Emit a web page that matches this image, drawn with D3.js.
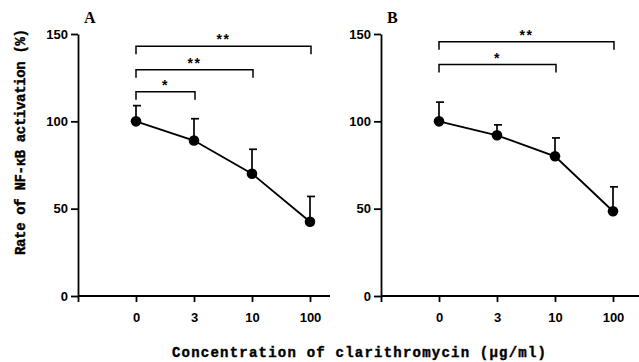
<!DOCTYPE html>
<html>
<head>
<meta charset="utf-8">
<script src="https://cdn.jsdelivr.net/npm/d3@7"></script>
<style>
  body { margin: 0; background: #fff; }
  svg { display: block; }
  .tick text { font-family: "Liberation Sans", Arial, sans-serif; font-weight: bold; font-size: 13px; fill: #000; }
  .tick line, .domain { stroke: #000; stroke-width: 1.8; }
</style>
</head>
<body>
<script>
var width = 639,
    height = 362;

// categories (concentration of clarithromycin, ug/ml)
var categories = ["", "0", "3", "10", "100"];
var yTicks = [0, 50, 100, 150];

// panel A: mean and upper error
var meanA = [100, 89, 70, 42.5];
var errTopA = [109, 101.5, 84, 57];
// panel B
var meanB = [100, 92, 80, 48.5];
var errTopB = [111, 98, 90.5, 62.5];

// significance brackets
var bracketsA = [
  {from: "0", to: "100", level: 143, label: "**"},
  {from: "0", to: "10", level: 129.5, label: "**"},
  {from: "0", to: "3", level: 117, label: "*"}
];
var bracketsB = [
  {from: "0", to: "100", level: 145.5, label: "**"},
  {from: "0", to: "10", level: 132.5, label: "*"}
];

var svg = d3.select("body").append("svg")
  .attr("width", width)
  .attr("height", height);

var y = d3.scaleLinear().domain([0, 150]).range([296, 34]);

function drawPanel(left, right, name, means, tops, brackets) {
  var x = d3.scalePoint()
    .domain(categories)
    .range([left, left + 58 * 4]);

  var g = svg.append("g");

  // baseline beyond last category
  g.append("line")
    .attr("x1", left).attr("x2", right)
    .attr("y1", y(0)).attr("y2", y(0))
    .attr("stroke", "#000").attr("stroke-width", 2);

  var xAxis = g.append("g")
    .attr("transform", "translate(0," + y(0) + ")")
    .call(d3.axisBottom(x).tickSize(6).tickPadding(11).tickSizeOuter(0));
  xAxis.select(".domain").remove();

  g.append("g")
    .attr("transform", "translate(" + left + ",0)")
    .call(d3.axisLeft(y).tickValues(yTicks).tickSize(7).tickPadding(3).tickSizeOuter(0));

  var pts = means.map(function(m, i) {
    return {c: categories[i + 1], m: m, top: tops[i]};
  });

  // error bars
  g.selectAll("line.err").data(pts).enter().append("line")
    .attr("class", "err")
    .attr("x1", function(d) { return x(d.c); })
    .attr("x2", function(d) { return x(d.c); })
    .attr("y1", function(d) { return y(d.m); })
    .attr("y2", function(d) { return y(d.top); })
    .attr("stroke", "#000").attr("stroke-width", 1.7);
  g.selectAll("line.cap").data(pts).enter().append("line")
    .attr("class", "cap")
    .attr("x1", function(d) { return x(d.c) - 3; })
    .attr("x2", function(d) { return x(d.c) + 5; })
    .attr("y1", function(d) { return y(d.top); })
    .attr("y2", function(d) { return y(d.top); })
    .attr("stroke", "#000").attr("stroke-width", 1.7);

  var line = d3.line()
    .x(function(d) { return x(d.c); })
    .y(function(d) { return y(d.m); });

  g.append("path")
    .datum(pts)
    .attr("d", line)
    .attr("fill", "none")
    .attr("stroke", "#000")
    .attr("stroke-width", 1.9);

  g.selectAll("circle").data(pts).enter().append("circle")
    .attr("cx", function(d) { return x(d.c); })
    .attr("cy", function(d) { return y(d.m); })
    .attr("r", 5.3)
    .attr("fill", "#000");

  // brackets
  brackets.forEach(function(b) {
    var x1 = x(b.from), x2 = x(b.to) + 1, yy = y(b.level);
    g.append("path")
      .attr("d", "M" + x1 + "," + (yy + 8) + "V" + yy + "H" + x2 + "V" + (yy + 8))
      .attr("fill", "none")
      .attr("stroke", "#000")
      .attr("stroke-width", 1.5);
    g.append("text")
      .attr("x", (x1 + x2) / 2)
      .attr("y", yy - 2)
      .attr("text-anchor", "middle")
      .attr("fill", "#000")
      .attr("font-family", "Liberation Sans, Arial, sans-serif")
      .attr("font-weight", "bold")
      .attr("font-size", 14)
      .attr("letter-spacing", 1.5)
      .text(b.label);
  });

  g.append("text")
    .attr("x", left + 6)
    .attr("y", 23)
    .attr("font-family", "Liberation Serif, Times New Roman, serif")
    .attr("font-weight", "bold")
    .attr("font-size", 16)
    .text(name);
}

drawPanel(78, 330, "A", meanA, errTopA, bracketsA);
drawPanel(381, 639, "B", meanB, errTopB, bracketsB);

// axis titles
svg.append("text")
  .attr("transform", "translate(25,142) rotate(-90)")
  .attr("text-anchor", "middle")
  .attr("font-family", "Liberation Mono, Courier New, monospace")
  .attr("font-weight", "bold")
  .attr("font-size", 14)
  .attr("stroke", "#000")
  .attr("stroke-width", 0.4)
  .attr("textLength", 226)
  .text("Rate of NF-\u03BAB activation (%)");

svg.append("text")
  .attr("x", 359)
  .attr("y", 357)
  .attr("text-anchor", "middle")
  .attr("font-family", "Liberation Mono, Courier New, monospace")
  .attr("font-weight", "bold")
  .attr("font-size", 14)
  .attr("stroke", "#000")
  .attr("stroke-width", 0.4)
  .attr("textLength", 374)
  .text("Concentration of clarithromycin (\u03BCg/ml)");
</script>
</body>
</html>
